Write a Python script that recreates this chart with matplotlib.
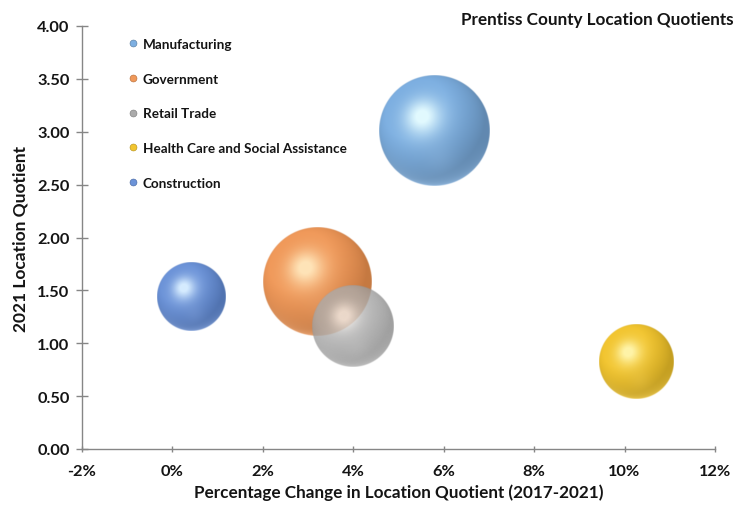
import numpy as np
import matplotlib
matplotlib.use("Agg")
import matplotlib.pyplot as plt
from matplotlib.transforms import ScaledTranslation
from matplotlib.lines import Line2D

# ---- data ----
industries = ["Manufacturing", "Government", "Retail Trade",
              "Health Care and Social Assistance", "Construction"]
pct_change = [5.8, 3.2, 4.0, 10.25, 0.42]          # % change in LQ 2017-2021
lq_2021 = [3.01, 1.58, 1.16, 0.82, 1.44]           # 2021 location quotient
bubble_size = [3080, 2920, 1680, 1370, 1160]       # relative bubble area

x_ticks = [-2, 0, 2, 4, 6, 8, 10, 12]
y_ticks = [0.0, 0.5, 1.0, 1.5, 2.0, 2.5, 3.0, 3.5, 4.0]
title = "Prentiss County Location Quotients"
xlabel = "Percentage Change in Location Quotient (2017-2021)"
ylabel = "2021 Location Quotient"

# ---- style ----
mid_cols = ["#7DAFE1", "#F0995A", "#ABABAB", "#F2C530", "#6C93D8"]
hi_cols = ["#E2FAFF", "#FFE4B8", "#F4F0EC", "#FFF4A8", "#D6ECFF"]
dark_cols = ["#54779A", "#B26A36", "#7A7A7A", "#B08E1A", "#44649E"]
alphas = [1.0, 1.0, 0.8, 1.0, 1.0]
max_radius_in = 0.555
FONT = "Lato"
axis_col = "#868686"
txt_col = "#141414"


def hex2rgb(h):
    h = h.lstrip("#")
    return np.array([int(h[i:i + 2], 16) / 255.0 for i in (0, 2, 4)])


def sphere_rgba(mid, hi, dark, rpx, alpha, n=241):
    mid, hi, dark = hex2rgb(mid), hex2rgb(hi), hex2rgb(dark)
    u = np.linspace(-1, 1, n)
    U, V = np.meshgrid(u, u)
    rho = np.sqrt(U ** 2 + V ** 2)
    nz = np.sqrt(np.clip(1 - rho ** 2, 0, 1))
    L = np.array([-0.42, 0.48, 0.77]); L /= np.linalg.norm(L)
    d = np.clip(U * L[0] + V * L[1] + nz * L[2], 0, 1)
    t = np.clip(0.32 + 0.85 * d, 0, 1)[..., None]
    col = dark + (mid - dark) * t
    H = L + np.array([0, 0, 1.0]); H /= np.linalg.norm(H)
    s = np.clip(U * H[0] + V * H[1] + nz * H[2], 0, 1)
    spec = (s ** 22 * 0.75 + s ** 8 * 0.35)[..., None]
    col = col + (hi - col) * np.clip(spec, 0, 1)
    # lower rim reflection
    light_mid = mid + (1 - mid) * 0.25
    rim = (np.clip((-V - 0.15) / 0.85, 0, 1) ** 1.3 * (1 - nz) ** 1.6)[..., None]
    col = col + (light_mid - col) * np.clip(rim * 0.9, 0, 1)
    # soft inner glow at lower centre
    g = np.exp(-((U - 0.1) ** 2 + (V + 0.5) ** 2) / 0.08)[..., None] * 0.18
    col = col + (light_mid - col) * g
    a = np.clip((1 - rho) * rpx + 0.5, 0, 1) * alpha
    return np.dstack([np.clip(col, 0, 1), a])


fig = plt.figure(figsize=(7.35, 5.1), dpi=100)
ax = fig.add_axes([82 / 735, 60 / 510, 633 / 735, 423 / 510])
ax.set_xlim(x_ticks[0], x_ticks[-1])
ax.set_ylim(y_ticks[0], y_ticks[-1])

smax = max(bubble_size)
for i, (xv, yv, sz) in enumerate(zip(pct_change, lq_2021, bubble_size)):
    r = max_radius_in * np.sqrt(sz / smax)
    tr = fig.dpi_scale_trans + ScaledTranslation(xv, yv, ax.transData)
    img = sphere_rgba(mid_cols[i], hi_cols[i], dark_cols[i], r * fig.dpi, alphas[i])
    ax.imshow(img, extent=(-r, r, -r, r), transform=tr, origin="lower",
              interpolation="bilinear", aspect="auto", zorder=2 + i)

ax.set_xlim(x_ticks[0], x_ticks[-1])
ax.set_ylim(y_ticks[0], y_ticks[-1])

for sp in ["top", "right"]:
    ax.spines[sp].set_visible(False)
for sp in ["left", "bottom"]:
    ax.spines[sp].set_color(axis_col)
    ax.spines[sp].set_linewidth(1.0)

ax.set_xticks(x_ticks)
ax.set_xticklabels([f"{v}%" for v in x_ticks])
ax.set_yticks(y_ticks)
ax.set_yticklabels([f"{v:.2f}" for v in y_ticks])
ax.tick_params(axis="y", direction="inout", length=8, width=1.0, color=axis_col, pad=5)
ax.tick_params(axis="x", direction="inout", length=5, width=1.0, color=axis_col, pad=8)
for lab in ax.get_xticklabels() + ax.get_yticklabels():
    lab.set_fontfamily(FONT)
    lab.set_fontweight("bold")
    lab.set_fontsize(11.8)
    lab.set_color(txt_col)

ax.set_xlabel(xlabel, fontfamily=FONT, fontweight="bold", fontsize=12.3,
              color=txt_col, labelpad=4)
ax.set_ylabel(ylabel, fontfamily=FONT, fontweight="bold", fontsize=12.5,
              color=txt_col, labelpad=6)

fig.text(461 / 735, 1 - 20 / 510, title, fontfamily=FONT, fontweight="bold",
         fontsize=12.3, color=txt_col, ha="left", va="center")

handles = [Line2D([], [], marker="o", linestyle="none", markersize=5,
                  markerfacecolor=mid_cols[i], markeredgecolor=dark_cols[i],
                  markeredgewidth=0.4, label=industries[i])
           for i in range(len(industries))]
leg = ax.legend(handles=handles, loc="upper left",
                bbox_to_anchor=((128 - 82) / 633, (450 - 39) / 423),
                frameon=False, borderpad=0, borderaxespad=0,
                handlelength=0.8, handletextpad=0.3, labelspacing=1.68,
                prop={"family": FONT, "weight": "bold", "size": 9.7})
for t in leg.get_texts():
    t.set_color(txt_col)

fig.savefig("out.png", dpi=100)
